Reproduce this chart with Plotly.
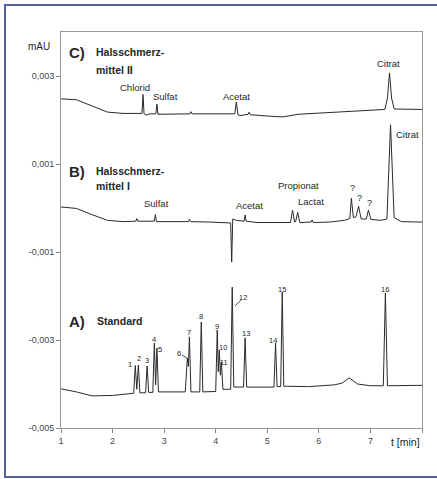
import plotly.graph_objects as go

# ---------------- data ----------------
# C) Halsschmerzmittel II
t_C = [1.0, 1.3, 1.6, 1.9, 2.2, 2.57, 2.59, 2.61, 2.65, 2.72, 2.84, 2.86, 2.88, 3.2, 3.5, 3.52, 3.54,
       4.0, 4.37, 4.40, 4.43, 4.47, 4.63, 4.65, 4.67, 5.0, 5.3, 5.6, 6.0, 6.5, 7.0, 7.28, 7.33, 7.37,
       7.41, 7.46, 8.0]
y_C = [0.00248, 0.00246, 0.00232, 0.00218, 0.00215, 0.00215, 0.00258, 0.00214, 0.00211, 0.00214,
       0.00214, 0.00236, 0.00213, 0.00214, 0.00214, 0.00219, 0.00214,
       0.00214, 0.00214, 0.00241, 0.00212, 0.00210, 0.00213, 0.00218, 0.00212, 0.00209, 0.00207,
       0.00213, 0.00216, 0.00219, 0.00222, 0.00224, 0.00250, 0.00307,
       0.00250, 0.00225, 0.00224]

# B) Halsschmerzmittel I
t_B = [1.0, 1.3, 1.6, 1.9, 2.2, 2.45, 2.47, 2.49, 2.81, 2.83, 2.85, 3.2, 3.47, 3.49, 3.51, 3.9,
       4.29, 4.31, 4.33, 4.4, 4.55, 4.57, 4.59, 4.8, 5.2, 5.45, 5.49, 5.53, 5.55, 5.59, 5.63,
       5.85, 5.87, 5.89, 6.2, 6.5, 6.6, 6.63, 6.67, 6.72, 6.77, 6.82, 6.92, 6.96, 7.01, 7.2,
       7.32, 7.39, 7.46, 7.6, 8.0]
y_B = [0.000023, -0.00001, -0.00015, -0.00028, -0.00031, -0.00030, -0.00024, -0.00030, -0.00030,
       -0.00015, -0.00031, -0.00031, -0.00031, -0.00026, -0.00031, -0.00032,
       -0.00034, -0.00123, -0.00025, -0.00028, -0.00030, -0.00016, -0.00030, -0.00033, -0.00034,
       -0.00033, -0.00005, -0.00032, -0.00031, -0.00010, -0.00033,
       -0.00032, -0.00027, -0.00033, -0.00032, -0.00028, -0.00024, 0.00022, -0.00022, -0.00020,
       0.00004, -0.00025, -0.00025, -0.00005, -0.00026, -0.00028,
       -0.00025, 0.00189, -0.00022, -0.00031, -0.00032]

# A) Standard
t_A = [1.0, 1.3, 1.6, 2.0, 2.41, 2.44, 2.47, 2.50, 2.53, 2.64, 2.67, 2.70, 2.78, 2.81, 2.835,
       2.86, 2.89, 3.2, 3.41, 3.45, 3.47, 3.49, 3.52, 3.69, 3.72, 3.75, 4.0, 4.03, 4.05, 4.07,
       4.09, 4.11, 4.14, 4.29, 4.32, 4.35, 4.54, 4.57, 4.60, 5.13, 5.16, 5.19, 5.26, 5.29, 5.32,
       5.8, 6.3, 6.45, 6.59, 6.75, 7.0, 7.25, 7.29, 7.33, 7.6, 8.0]
y_A = [-0.00411, -0.00418, -0.00427, -0.00426, -0.00421, -0.00358, -0.00412, -0.00357, -0.00420,
       -0.00420, -0.00359, -0.00419, -0.00419, -0.00307, -0.00402,
       -0.00318, -0.00418, -0.00418, -0.00418, -0.00341, -0.00360, -0.00293, -0.00418, -0.00418,
       -0.00259, -0.00418, -0.00417, -0.00277, -0.00372, -0.00323,
       -0.00380, -0.00350, -0.00412, -0.00412, -0.00180, -0.00407, -0.00407, -0.00295, -0.00407,
       -0.00407, -0.00307, -0.00406, -0.00406, -0.00191, -0.00405,
       -0.00406, -0.00402, -0.00398, -0.00386, -0.00400, -0.00404, -0.00404, -0.00193, -0.00404,
       -0.00404, -0.00403]

y_ticks = [-0.005, -0.003, -0.001, 0.001, 0.003]
y_tick_labels = ["-0,005", "-0,003", "-0,001", "0,001", "0,003"]
x_ticks = [1, 2, 3, 4, 5, 6, 7, 8]
x_tick_labels = ["1", "2", "3", "4", "5", "6", "7", ""]

# ---------------- layout helpers ----------------
W, H = 437, 479
L, R, T, B = 61, 15, 32, 51
X0, X1 = 1.0, 8.0
Y0, Y1 = -0.005, 0.004
PW, PH = W - L - R, H - T - B


def px_x(px):
    return X0 + (px - L) / PW * (X1 - X0)


def px_y(py):
    return Y1 - (py - T) / PH * (Y1 - Y0)


def pap_x(px):
    return (px - L) / PW


def pap_y(py):
    return (H - B - py) / PH


LINE = "#2a2a2a"
TXT = "#262626"
FONT = "Liberation Sans, Arial, sans-serif"

fig = go.Figure()
for t, y in ((t_C, y_C), (t_B, y_B), (t_A, y_A)):
    fig.add_trace(go.Scatter(x=t, y=y, mode="lines", line=dict(color=LINE, width=1),
                             showlegend=False, hoverinfo="skip"))

ann = []


def label(text, px, py, size=9.5, bold=False, xanchor="center"):
    ann.append(dict(x=px_x(px), y=px_y(py), xref="x", yref="y", text=f"<b>{text}</b>" if bold else text,
                    showarrow=False, xanchor=xanchor, yanchor="middle",
                    font=dict(family=FONT, size=size, color=TXT)))


# panel titles
label("C)", 67, 52, size=15, bold=True, xanchor="left")
label("Halsschmerz-", 94, 52, size=10.5, bold=True, xanchor="left")
label("mittel II", 94, 70, size=10.5, bold=True, xanchor="left")
label("B)", 67, 171, size=15, bold=True, xanchor="left")
label("Halsschmerz-", 94, 171, size=10.5, bold=True, xanchor="left")
label("mittel I", 94, 186, size=10.5, bold=True, xanchor="left")
label("A)", 67, 321, size=15, bold=True, xanchor="left")
label("Standard", 95, 321, size=10.5, bold=True, xanchor="left")

# peak names C
label("Chlorid", 135, 87, size=9.5)
label("Sulfat", 165, 96, size=9.5)
label("Acetat", 236, 96, size=9.5)
label("Citrat", 388, 63, size=9.5)
# peak names B
label("Sulfat", 156, 203, size=9.5)
label("Acetat", 249, 205, size=9.5)
label("Propionat", 298, 185, size=9.5)
label("Lactat", 311, 201, size=9.5)
label("?", 352, 188, size=9)
label("?", 359, 198, size=9)
label("?", 369, 203, size=9)
label("Citrat", 394, 134, size=9.5, xanchor="left")
# peak numbers A
for txt, px, py in [("1", 130, 364), ("2", 139, 358), ("3", 147, 360), ("4", 154, 339), ("5", 160, 349),
                    ("6", 179, 353), ("7", 189, 332), ("8", 201, 316), ("9", 217, 326), ("10", 223, 347),
                    ("11", 224, 362), ("12", 243, 297), ("13", 246, 333), ("14", 273, 340),
                    ("15", 282, 289), ("16", 385, 289)]:
    label(txt, px, py, size=7.5)

# axis captions
ann.append(dict(x=pap_x(39), y=pap_y(47), xref="paper", yref="paper", text="mAU", showarrow=False,
                xanchor="center", yanchor="middle", font=dict(family=FONT, size=10, color=TXT)))
ann.append(dict(x=pap_x(405), y=pap_y(442), xref="paper", yref="paper", text="t [min]", showarrow=False,
                xanchor="center", yanchor="middle", font=dict(family=FONT, size=10.5, color=TXT)))

shapes = [
    # outer blue frame
    dict(type="rect", xref="paper", yref="paper", x0=pap_x(5), x1=pap_x(446), y0=pap_y(477), y1=pap_y(5),
         line=dict(color="#5363a3", width=2), layer="below"),
    # leader lines for peaks 6 and 12
    dict(type="line", xref="x", yref="y", x0=px_x(182), y0=px_y(355), x1=px_x(187), y1=px_y(358),
         line=dict(color=LINE, width=0.8)),
    dict(type="line", xref="x", yref="y", x0=px_x(235), y0=px_y(306), x1=px_x(241), y1=px_y(300),
         line=dict(color=LINE, width=0.8)),
]

fig.update_layout(
    width=W, height=H, margin=dict(l=L, r=R, t=T, b=B),
    paper_bgcolor="white", plot_bgcolor="white",
    font=dict(family=FONT, size=9, color="#444"),
    annotations=ann, shapes=shapes, showlegend=False,
    xaxis=dict(range=[X0, X1], tickvals=x_ticks, ticktext=x_tick_labels, ticks="outside", ticklen=4,
               tickcolor="#888", showline=True, linecolor="#999", linewidth=1, mirror=True,
               showgrid=False, zeroline=False, tickfont=dict(size=9, color="#444")),
    yaxis=dict(range=[Y0, Y1], tickvals=y_ticks, ticktext=y_tick_labels, ticks="outside", ticklen=4,
               tickcolor="#888", showline=True, linecolor="#999", linewidth=1, mirror=True,
               showgrid=False, zeroline=False, tickfont=dict(size=9, color="#444")),
)

fig.write_html("out.html")
